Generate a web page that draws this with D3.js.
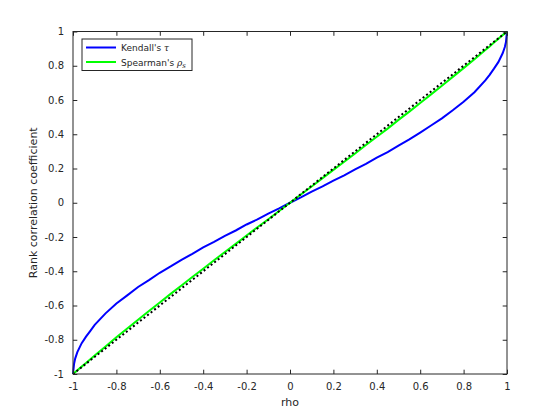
<!DOCTYPE html>
<html>
<head>
<meta charset="utf-8">
<script src="https://cdn.jsdelivr.net/npm/d3@7"></script>
<style>
  body { margin: 0; background: #fff; }
  text { font-family: "DejaVu Sans", sans-serif; fill: #262626; }
</style>
</head>
<body>
<div id="chart"></div>
<script>
'use strict';

// values
var rho = [-1, -0.995, -0.99, -0.98, -0.96, -0.94, -0.92, -0.9, -0.85, -0.8, -0.75, -0.7, -0.65, -0.6, -0.55, -0.5,
  -0.45, -0.4, -0.35, -0.3, -0.25, -0.2, -0.15, -0.1, -0.05, 0, 0.05, 0.1, 0.15, 0.2, 0.25, 0.3, 0.35, 0.4,
  0.45, 0.5, 0.55, 0.6, 0.65, 0.7, 0.75, 0.8, 0.85, 0.9, 0.92, 0.94, 0.96, 0.98, 0.99, 0.995, 1];
var kendall = [-1, -0.94, -0.91, -0.872, -0.82, -0.782, -0.748, -0.713, -0.646, -0.588, -0.541, -0.492, -0.452,
  -0.409, -0.372, -0.333, -0.298, -0.261, -0.229, -0.193, -0.162, -0.127, -0.097, -0.063, -0.033, 0, 0.031,
  0.065, 0.095, 0.129, 0.16, 0.195, 0.227, 0.263, 0.296, 0.334, 0.37, 0.41, 0.451, 0.493, 0.54, 0.59, 0.645,
  0.714, 0.747, 0.783, 0.821, 0.873, 0.909, 0.937, 1];
var spearman = [-1, -0.994, -0.989, -0.978, -0.957, -0.936, -0.914, -0.892, -0.839, -0.786, -0.734, -0.683,
  -0.632, -0.582, -0.532, -0.483, -0.434, -0.385, -0.336, -0.288, -0.24, -0.191, -0.143, -0.096, -0.048, 0,
  0.048, 0.095, 0.144, 0.192, 0.239, 0.288, 0.337, 0.385, 0.433, 0.484, 0.532, 0.582, 0.633, 0.683, 0.735,
  0.786, 0.838, 0.892, 0.913, 0.936, 0.957, 0.979, 0.989, 0.994, 1];
var identity = [-1, 1];
var xTicks = [-1, -0.8, -0.6, -0.4, -0.2, 0, 0.2, 0.4, 0.6, 0.8, 1];
var yTicks = [-1, -0.8, -0.6, -0.4, -0.2, 0, 0.2, 0.4, 0.6, 0.8, 1];

var W = 560, H = 420;
var margin = {top: 31.5, right: 53, bottom: 46, left: 73};
var width = W - margin.left - margin.right,
  height = H - margin.top - margin.bottom;

var x = d3.scaleLinear().domain([-1, 1]).range([0, width]);
var y = d3.scaleLinear().domain([-1, 1]).range([height, 0]);

var svg = d3.select("#chart").append("svg")
  .attr("width", W)
  .attr("height", H)
  .append("g")
    .attr("transform", "translate(" + margin.left + "," + margin.top + ")");

var line = d3.line()
  .x(function(d) { return x(d[0]); })
  .y(function(d) { return y(d[1]); });

// clip to axes box
svg.append("clipPath").attr("id", "clip")
  .append("rect").attr("x", -1).attr("y", -1).attr("width", width + 2).attr("height", height + 2);

var plot = svg.append("g").attr("clip-path", "url(#clip)");

plot.append("path")
  .datum(d3.zip(rho, kendall))
  .attr("fill", "none")
  .attr("stroke", "#0000ff")
  .attr("stroke-width", 2)
  .attr("d", line);

plot.append("path")
  .datum(d3.zip(rho, spearman))
  .attr("fill", "none")
  .attr("stroke", "#00ff00")
  .attr("stroke-width", 2)
  .attr("d", line);

plot.append("path")
  .datum(d3.zip(identity, identity))
  .attr("fill", "none")
  .attr("stroke", "#000")
  .attr("stroke-width", 2)
  .attr("stroke-dasharray", "2,2.5")
  .attr("d", line);

// axes, ticks inside on all four sides
var tickLen = 4.3;
var fmt = function(d) { return String(d); };
function styleAxis(g) {
  g.select(".domain").remove();
  g.selectAll(".tick line").attr("stroke", "#262626");
  g.selectAll(".tick text").attr("font-size", 10).attr("fill", "#262626");
}
svg.append("g")
  .attr("transform", "translate(0," + height + ")")
  .call(d3.axisBottom(x).tickValues(xTicks).tickSizeInner(-tickLen).tickSizeOuter(0).tickPadding(9)
    .tickFormat(fmt))
  .call(styleAxis);
svg.append("g")
  .call(d3.axisTop(x).tickValues(xTicks).tickSizeInner(-tickLen).tickSizeOuter(0).tickFormat(""))
  .call(styleAxis);
svg.append("g")
  .call(d3.axisLeft(y).tickValues(yTicks).tickSizeInner(-tickLen).tickSizeOuter(0).tickPadding(9)
    .tickFormat(fmt))
  .call(styleAxis);
svg.append("g")
  .attr("transform", "translate(" + width + ",0)")
  .call(d3.axisRight(y).tickValues(yTicks).tickSizeInner(-tickLen).tickSizeOuter(0).tickFormat(""))
  .call(styleAxis);

svg.append("rect")
  .attr("width", width).attr("height", height)
  .attr("fill", "none").attr("stroke", "#262626").attr("stroke-width", 1);

// axis labels
svg.append("text")
  .attr("x", width / 2).attr("y", height + 32)
  .attr("text-anchor", "middle").attr("font-size", 11)
  .text("rho");
svg.append("text")
  .attr("transform", "translate(" + (-36) + "," + (height / 2) + ") rotate(-90)")
  .attr("text-anchor", "middle").attr("font-size", 11)
  .text("Rank correlation coefficient");

// legend
var legend = svg.append("g").attr("transform", "translate(" + 9 + "," + 7.5 + ")");
legend.append("rect")
  .attr("width", 110).attr("height", 31.5)
  .attr("fill", "#fff").attr("stroke", "#262626").attr("stroke-width", 1);
var entries = [
  {color: "#0000ff", name: "Kendall's ", sym: "\u03c4", sub: ""},
  {color: "#00ff00", name: "Spearman's ", sym: "\u03c1", sub: "s"}
];
entries.forEach(function(e, i) {
  var yy = 8.5 + i * 14.5;
  legend.append("line")
    .attr("x1", 4).attr("x2", 34).attr("y1", yy).attr("y2", yy)
    .attr("stroke", e.color).attr("stroke-width", 2);
  var t = legend.append("text")
    .attr("x", 39).attr("y", yy + 3.5).attr("font-size", 9);
  t.append("tspan").text(e.name);
  t.append("tspan").attr("font-style", "italic").attr("font-family", "DejaVu Serif, serif").text(e.sym);
  if (e.sub) t.append("tspan").attr("font-style", "italic").attr("font-family", "DejaVu Serif, serif")
    .attr("font-size", 7).attr("dy", 2).text(e.sub);
});
</script>
</body>
</html>
